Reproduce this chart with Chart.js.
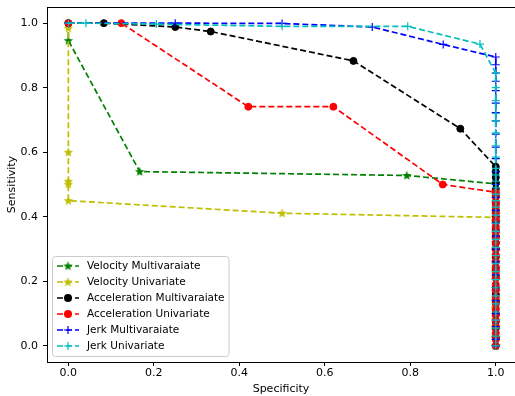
<!DOCTYPE html>
<html>
<head>
<meta charset="utf-8">
<script src="https://cdn.jsdelivr.net/npm/chart.js@4.4.0/dist/chart.umd.min.js"></script>
<style>
  html, body { margin: 0; padding: 0; background: #fff; }
  canvas { display: block; }
</style>
</head>
<body>
<canvas id="roc" width="515" height="396"></canvas>
<script>
// axis ticks
const xTicks = [0, 0.2, 0.4, 0.6, 0.8, 1.0];
const yTicks = [0, 0.2, 0.4, 0.6, 0.8, 1.0];

const seriesNames = [
  'Velocity Multivaraiate',
  'Velocity Univariate',
  'Acceleration Multivaraiate',
  'Acceleration Univariate',
  'Jerk Multivaraiate',
  'Jerk Univariate'
];

// points before the curve reaches specificity = 1.0
const velMultiSpec = [0, 0, 0.167, 0.792];
const velMultiSens = [1.0, 0.946, 0.54, 0.528];
const velUniSpec = [0, 0, 0, 0, 0, 0, 0.5];
const velUniSens = [1.0, 0.984, 0.6, 0.51, 0.501, 0.45, 0.411];
const accMultiSpec = [0, 0.083, 0.25, 0.333, 0.667, 0.917];
const accMultiSens = [1.0, 1.0, 0.988, 0.974, 0.883, 0.673];
const accUniSpec = [0, 0.124, 0.421, 0.62, 0.876];
const accUniSens = [1.0, 1.0, 0.741, 0.741, 0.5];
const jerkMultiSpec = [0, 0.25, 0.5, 0.711, 0.877];
const jerkMultiSens = [1.0, 1.0, 0.999, 0.988, 0.934];
const jerkUniSpec = [0, 0.041, 0.206, 0.5, 0.794, 0.963];
const jerkUniSens = [1.0, 1.0, 0.997, 0.99, 0.99, 0.935];

// sensitivities of the points stacked at specificity = 1.0
const velMultiTail = [0.502, 0.47, 0.445, 0.41, 0.385, 0.35, 0.32, 0.295, 0.26, 0.23, 0.205, 0.17, 0.14, 0.115, 0.08, 0.05, 0.025, 0.0];
const velUniTail = [0.398, 0.365, 0.33, 0.3, 0.27, 0.24, 0.205, 0.18, 0.15, 0.12, 0.09, 0.06, 0.03, 0.0];
const accMultiTail = [0.555, 0.54, 0.522, 0.505, 0.485, 0.465, 0.44, 0.42, 0.4, 0.385, 0.36, 0.34, 0.318, 0.3, 0.276, 0.24, 0.215, 0.18, 0.16, 0.136, 0.1, 0.075, 0.056, 0.025, 0.0];
const accUniTail = [0.476, 0.46, 0.442, 0.43, 0.41, 0.392, 0.37, 0.352, 0.335, 0.318, 0.3, 0.282, 0.262, 0.245, 0.228, 0.21, 0.19, 0.172, 0.15, 0.13, 0.112, 0.095, 0.078, 0.06, 0.04, 0.02, 0.0];
const jerkMultiTail = [0.895, 0.871, 0.845, 0.82, 0.791, 0.752, 0.723, 0.697, 0.656, 0.616, 0.58, 0.54, 0.5, 0.46, 0.42, 0.38, 0.34, 0.3, 0.26, 0.22, 0.18, 0.14, 0.1, 0.06, 0.02, 0.0];
const jerkUniTail = [0.845, 0.8, 0.76, 0.72, 0.697, 0.66, 0.62, 0.585, 0.55, 0.53, 0.51, 0.49, 0.47, 0.45, 0.43, 0.405, 0.38, 0.355, 0.33, 0.305, 0.28, 0.255, 0.23, 0.205, 0.18, 0.155, 0.13, 0.105, 0.08, 0.055, 0.03, 0.0];

const colors = ['#008000', '#bfbf00', '#000000', '#ff0000', '#0000ff', '#00bfbf'];
const markers = ['star', 'star', 'circle', 'circle', 'cross', 'cross'];

function toPoints(spec, sens, tail) {
  const pts = spec.map((x, i) => ({ x: x, y: sens[i] }));
  tail.forEach(y => pts.push({ x: 1.0, y: y }));
  return pts;
}

// filled 5-point star like matplotlib's '*'
function starImage(color) {
  const c = document.createElement('canvas');
  c.width = 11; c.height = 11;
  const g = c.getContext('2d');
  g.fillStyle = color;
  g.beginPath();
  for (let i = 0; i < 10; i++) {
    const r = i % 2 === 0 ? 5 : 2.1;
    const a = -Math.PI / 2 + i * Math.PI / 5;
    const px = 5.5 + r * Math.cos(a), py = 5.8 + r * Math.sin(a);
    if (i === 0) g.moveTo(px, py); else g.lineTo(px, py);
  }
  g.closePath();
  g.fill();
  return c;
}

const allSpec = [velMultiSpec, velUniSpec, accMultiSpec, accUniSpec, jerkMultiSpec, jerkUniSpec];
const allSens = [velMultiSens, velUniSens, accMultiSens, accUniSens, jerkMultiSens, jerkUniSens];
const allTail = [velMultiTail, velUniTail, accMultiTail, accUniTail, jerkMultiTail, jerkUniTail];

const datasets = seriesNames.map((name, i) => {
  const style = markers[i] === 'star' ? starImage(colors[i]) : markers[i];
  return {
    label: name,
    data: toPoints(allSpec[i], allSens[i], allTail[i]),
    showLine: true,
    borderColor: colors[i],
    backgroundColor: colors[i],
    borderWidth: 1.7,
    borderDash: [6, 3],
    pointStyle: style,
    pointRadius: markers[i] === 'cross' ? 4 : 3.5,
    pointBorderWidth: markers[i] === 'cross' ? 1.2 : 1,
    pointBackgroundColor: colors[i],
    pointBorderColor: colors[i],
    order: seriesNames.length - i,
    clip: false
  };
});

// top spine + legend inside the axes
const frameAndLegend = {
  id: 'frameAndLegend',
  afterDraw(chart) {
    const { ctx, chartArea: a } = chart;
    ctx.save();
    ctx.strokeStyle = '#000';
    ctx.lineWidth = 1;
    ctx.beginPath();
    ctx.moveTo(a.left, a.top + 0.5);
    ctx.lineTo(a.right, a.top + 0.5);
    ctx.stroke();

    // legend box
    const bx = 52.5, by = 256.5, bw = 176.5, bh = 100;
    ctx.beginPath();
    ctx.roundRect(bx, by, bw, bh, 3);
    ctx.fillStyle = 'rgba(255,255,255,0.8)';
    ctx.fill();
    ctx.strokeStyle = '#cccccc';
    ctx.stroke();

    ctx.font = '10.5px "DejaVu Sans"';
    ctx.textBaseline = 'middle';
    seriesNames.forEach((name, i) => {
      const y = 266 + i * 16;
      ctx.strokeStyle = colors[i];
      ctx.fillStyle = colors[i];
      ctx.lineWidth = 1.7;
      ctx.setLineDash([6, 3]);
      ctx.beginPath();
      ctx.moveTo(57, y);
      ctx.lineTo(79, y);
      ctx.stroke();
      ctx.setLineDash([]);
      const mx = 68;
      if (markers[i] === 'star') {
        ctx.drawImage(datasets[i].pointStyle, mx - 5.5, y - 5.5);
      } else if (markers[i] === 'circle') {
        ctx.beginPath();
        ctx.arc(mx, y, 4, 0, Math.PI * 2);
        ctx.fill();
      } else {
        ctx.lineWidth = 1.2;
        ctx.beginPath();
        ctx.moveTo(mx - 4, y); ctx.lineTo(mx + 4, y);
        ctx.moveTo(mx, y - 4); ctx.lineTo(mx, y + 4);
        ctx.stroke();
      }
      ctx.fillStyle = '#000';
      ctx.fillText(name, 87, y + 0.5);
    });
    ctx.restore();
  }
};

const tickFont = { family: 'DejaVu Sans', size: 11 };

function noPad(axis) {
  axis.paddingLeft = 0;
  axis.paddingRight = 0;
  axis.paddingTop = 0;
  axis.paddingBottom = 0;
}

new Chart(document.getElementById('roc').getContext('2d'), {
  type: 'scatter',
  data: { datasets: datasets },
  options: {
    responsive: false,
    animation: false,
    events: [],
    devicePixelRatio: 1,
    layout: { autoPadding: false, padding: { top: 7, right: 0, left: 0, bottom: 0 } },
    plugins: { legend: { display: false }, tooltip: { enabled: false } },
    scales: {
      x: {
        type: 'linear',
        min: -0.05,
        max: 1.045,
        afterBuildTicks: axis => { axis.ticks = xTicks.map(v => ({ value: v })); },
        afterFit: axis => { axis.height = 34; noPad(axis); },
        ticks: { font: tickFont, color: '#000', padding: 1, maxRotation: 0, callback: v => v.toFixed(1) },
        grid: { drawOnChartArea: false, drawTicks: true, tickLength: 4, tickColor: '#000' },
        border: { color: '#000', width: 1 },
        title: { display: true, text: 'Specificity', font: tickFont, color: '#000', padding: { top: 0, bottom: 0 } }
      },
      y: {
        type: 'linear',
        min: -0.05,
        max: 1.05,
        afterBuildTicks: axis => { axis.ticks = yTicks.map(v => ({ value: v })); },
        afterFit: axis => { axis.width = 47; noPad(axis); },
        ticks: { font: tickFont, color: '#000', padding: 5, callback: v => v.toFixed(1) },
        grid: { drawOnChartArea: false, drawTicks: true, tickLength: 4, tickColor: '#000' },
        border: { color: '#000', width: 1 },
        title: { display: true, text: 'Sensitivity', font: tickFont, color: '#000', padding: { top: 6, bottom: 0 } }
      }
    }
  },
  plugins: [frameAndLegend]
});
</script>
</body>
</html>
